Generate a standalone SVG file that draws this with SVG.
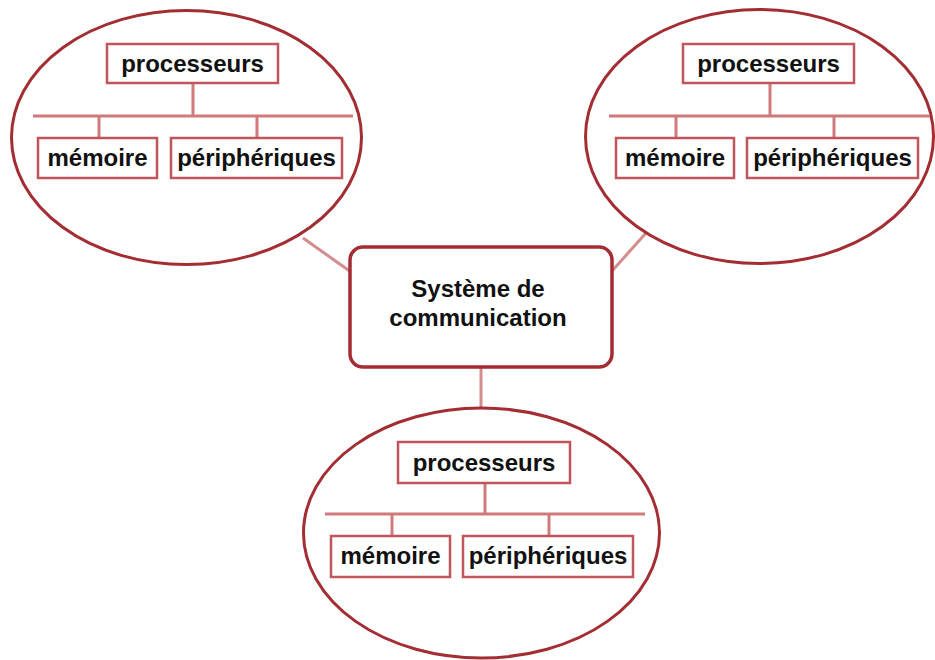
<svg xmlns="http://www.w3.org/2000/svg" width="935" height="660" viewBox="0 0 935 660">
  <style>
    .cluster { fill: #ffffff; stroke: #a32d33; stroke-width: 3; }
    .hub { fill: #ffffff; stroke: #a32d33; stroke-width: 3.5; }
    .box { fill: #ffffff; stroke: #c0565b; stroke-width: 2.5; }
    .link { stroke: #d48c8e; stroke-width: 3; fill: none; }
    .tree { stroke: #d07a7d; stroke-width: 3; fill: none; }
    .lbl { font-family: "Liberation Sans", Arial, sans-serif; font-weight: bold; font-size: 24px; fill: #111111; text-anchor: middle; }
  </style>

  <rect width="935" height="660" fill="#ffffff"/>

  <!-- links between the hub and the three clusters -->
  <g id="connectors">
    <line class="link" x1="303" y1="238" x2="351" y2="272"/>
    <line class="link" x1="612" y1="271" x2="646" y2="233"/>
    <line class="link" x1="481" y1="367" x2="481" y2="409"/>
  </g>

  <!-- left cluster -->
  <g id="cluster-left">
    <ellipse class="cluster" cx="186.5" cy="137.5" rx="175" ry="127"/>
    <g class="tree">
      <line x1="193" y1="83" x2="193" y2="116"/>
      <line x1="33" y1="116" x2="353" y2="116"/>
      <line x1="99" y1="116" x2="99" y2="138"/>
      <line x1="257" y1="116" x2="257" y2="138"/>
    </g>
    <g id="left-processeurs">
      <rect class="box" x="107" y="44" width="171" height="39"/>
      <text class="lbl" x="192.5" y="72">processeurs</text>
    </g>
    <g id="left-memoire">
      <rect class="box" x="38" y="138" width="119" height="40"/>
      <text class="lbl" x="97.5" y="166">mémoire</text>
    </g>
    <g id="left-peripheriques">
      <rect class="box" x="171" y="138" width="171" height="40"/>
      <text class="lbl" x="256.5" y="166">périphériques</text>
    </g>
  </g>

  <!-- right cluster -->
  <g id="cluster-right">
    <ellipse class="cluster" cx="759.5" cy="136.5" rx="174" ry="127"/>
    <g class="tree">
      <line x1="770" y1="83" x2="770" y2="116"/>
      <line x1="609" y1="116" x2="930" y2="116"/>
      <line x1="676" y1="116" x2="676" y2="138"/>
      <line x1="834" y1="116" x2="834" y2="138"/>
    </g>
    <g id="right-processeurs">
      <rect class="box" x="683" y="44" width="171" height="39"/>
      <text class="lbl" x="768.5" y="72">processeurs</text>
    </g>
    <g id="right-memoire">
      <rect class="box" x="616" y="138" width="118" height="40"/>
      <text class="lbl" x="675" y="166">mémoire</text>
    </g>
    <g id="right-peripheriques">
      <rect class="box" x="747" y="138" width="171" height="40"/>
      <text class="lbl" x="832.5" y="166">périphériques</text>
    </g>
  </g>

  <!-- bottom cluster -->
  <g id="cluster-bottom">
    <ellipse class="cluster" cx="481.5" cy="533" rx="178" ry="125"/>
    <g class="tree">
      <line x1="485" y1="483" x2="485" y2="514"/>
      <line x1="325" y1="514" x2="645" y2="514"/>
      <line x1="392" y1="514" x2="392" y2="536"/>
      <line x1="549" y1="514" x2="549" y2="536"/>
    </g>
    <g id="bottom-processeurs">
      <rect class="box" x="398" y="442" width="172" height="41"/>
      <text class="lbl" x="484" y="471">processeurs</text>
    </g>
    <g id="bottom-memoire">
      <rect class="box" x="331" y="536" width="119" height="41"/>
      <text class="lbl" x="390.5" y="564">mémoire</text>
    </g>
    <g id="bottom-peripheriques">
      <rect class="box" x="463" y="536" width="170" height="41"/>
      <text class="lbl" x="548" y="564">périphériques</text>
    </g>
  </g>

  <!-- central hub -->
  <g id="hub">
    <rect class="hub" x="350" y="247" width="262" height="120" rx="13" ry="13"/>
    <text class="lbl" x="478" y="297">Système de</text>
    <text class="lbl" x="478" y="326">communication</text>
  </g>
</svg>
